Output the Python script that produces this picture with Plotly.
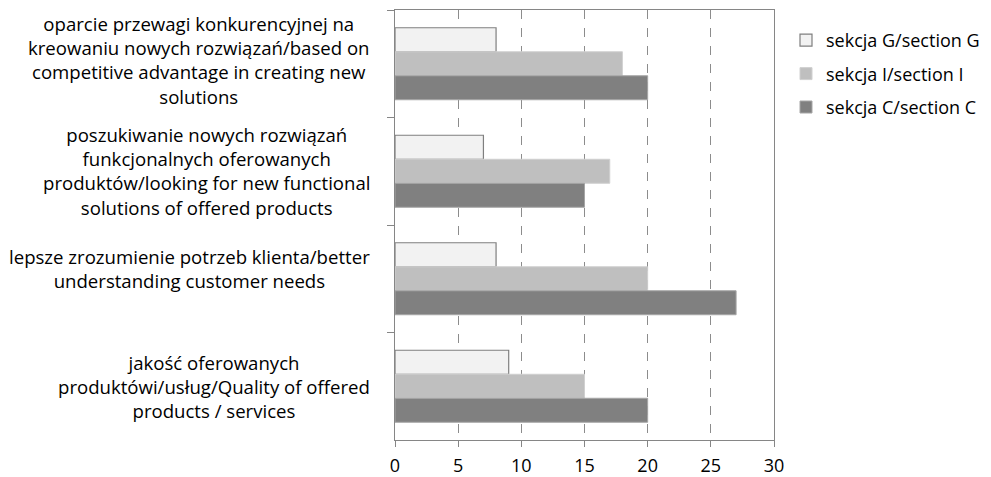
import plotly.graph_objects as go

categories = [
    "oparcie przewagi konkurencyjnej na<br>kreowaniu nowych rozwiązań/based on<br>competitive advantage in creating new<br>solutions",
    "poszukiwanie nowych rozwiązań<br>funkcjonalnych oferowanych<br>produktów/looking for new functional<br>solutions of offered products",
    "lepsze zrozumienie potrzeb klienta/better<br>understanding customer needs",
    "jakość oferowanych<br>produktówi/usług/Quality of offered<br>products / services",
]
cat_ids = ["c1", "c2", "c3", "c4"]
series_names = ["sekcja G/section G", "sekcja I/section I", "sekcja C/section C"]
values_G = [8, 7, 8, 9]
values_I = [18, 17, 20, 15]
values_C = [20, 15, 27, 20]
x_ticks = [0, 5, 10, 15, 20, 25, 30]

# label vertical nudges (px), styling only
label_yshift = [4, 0, 10, 0]

FONT = "Open Sans"
W, H = 991, 477
L, R, T, B = 395, 217, 10, 37
PW, PH = W - L - R, H - T - B

fig = go.Figure()
styles = [
    ("#f2f2f2", "#7f7f7f", 1.2),
    ("#bfbfbf", "#d0d0d0", 1),
    ("#808080", "#a6a6a6", 1),
]
for name, vals, (fc, lc, lw) in zip(series_names, [values_G, values_I, values_C], styles):
    fig.add_trace(go.Bar(
        y=cat_ids, x=vals, orientation="h", name=name,
        marker=dict(color=fc, line=dict(color=lc, width=lw)),
        legendgroup=name,
    ))

for cid, text, ys in zip(cat_ids, categories, label_yshift):
    fig.add_annotation(
        x=-23 / PW, xref="paper", y=cid, yref="y", yshift=ys,
        text=text, showarrow=False, xanchor="right", yanchor="middle",
        align="center", font=dict(family=FONT, size=18.6, color="#000000"),
    )

fig.update_layout(
    width=W, height=H,
    margin=dict(l=L, r=R, t=T, b=B, pad=0, autoexpand=False),
    paper_bgcolor="white", plot_bgcolor="white",
    barmode="group", bargap=0.33, bargroupgap=0,
    font=dict(family=FONT, size=19, color="#000000"),
    showlegend=True,
    legend=dict(
        x=(786 - L) / PW, xanchor="left", y=1 - (22 - T) / PH, yanchor="top",
        traceorder="grouped", tracegroupgap=7, itemwidth=30,
        font=dict(family=FONT, size=18, color="#000000"),
        bgcolor="rgba(0,0,0,0)",
    ),
    xaxis=dict(
        range=[0, 30], tickvals=x_ticks, ticks="outside", ticklen=6, tickcolor="#868686",
        showline=True, linecolor="#868686", linewidth=1, mirror=True,
        showgrid=True, gridcolor="#8c8c8c", griddash="dash", gridwidth=1,
        zeroline=False, tickfont=dict(family=FONT, size=18, color="#000000"),
        ticklabelstandoff=3, automargin=False,
    ),
    yaxis=dict(
        type="category", categoryorder="array", categoryarray=cat_ids,
        autorange="reversed", showticklabels=False, automargin=False,
        ticks="outside", tickson="boundaries", ticklen=7, tickcolor="#868686",
        showline=True, linecolor="#868686", linewidth=1, mirror=True,
        showgrid=False, zeroline=False,
    ),
)

fig.write_html("out.html")
